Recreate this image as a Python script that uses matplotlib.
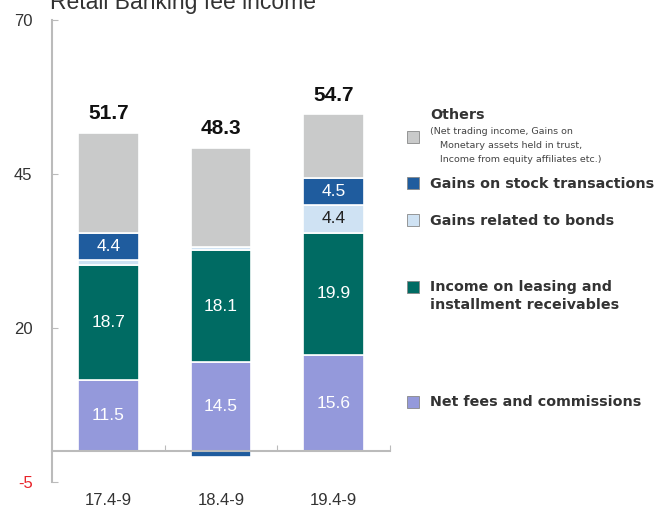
import numpy as np
import matplotlib.pyplot as plt
from matplotlib.patches import Rectangle

categories = ['17.4-9', '18.4-9', '19.4-9']
net_fees = [11.5, 14.5, 15.6]
leasing = [18.7, 18.1, 19.9]
bonds = [0.8, 0.5, 4.4]
stock = [4.4, -1.0, 4.5]
others = [16.3, 16.2, 10.3]
totals = [51.7, 48.3, 54.7]

series = [net_fees, leasing, bonds, stock, others]
colors = ['#9499DB', '#006B63', '#CFE2F3', '#1F5C9E', '#C9CACA']
# which segments get a label, and in what colour
label_show = [[True, True, True], [True, True, True], [False, False, True],
              [True, False, True], [False, False, False]]
label_col = ['white', 'white', '#222222', 'white', 'white']

plt.rcParams['font.family'] = ['Liberation Sans', 'DejaVu Sans']
plt.rcParams['axes.unicode_minus'] = False

fig = plt.figure(figsize=(6.55, 5.14), dpi=100)
ax = fig.add_axes([52 / 655, 1 - 482 / 514, 338 / 655, 462 / 514])

x = np.arange(len(categories))
pos = np.zeros(len(categories))
neg = np.zeros(len(categories))
for k, vals in enumerate(series):
    vals = np.array(vals)
    bottom = np.where(vals >= 0, pos, neg)
    ax.bar(x, vals, 0.54, bottom=bottom, color=colors[k], edgecolor='white', linewidth=1.2)
    for i in range(len(x)):
        if label_show[k][i]:
            ax.text(x[i], bottom[i] + vals[i] / 2, f'{vals[i]:.1f}', ha='center', va='center',
                    color=label_col[k], fontsize=12.5)
    pos = np.where(vals >= 0, pos + vals, pos)
    neg = np.where(vals < 0, neg + vals, neg)

for i in range(len(x)):
    ax.annotate(f'{totals[i]:.1f}', (x[i], pos[i]), xytext=(0, 7), textcoords='offset points',
                ha='center', va='bottom', fontsize=15, fontweight='bold', color='#111111')

ax.set_xlim(-0.5, 2.5)
ax.set_ylim(-5, 70)
ax.set_yticks([-5, 20, 45, 70])
ax.tick_params(axis='y', direction='in', length=4, color='#BBBBBB', pad=14, labelsize=12,
               labelcolor='#333333')
ax.get_yticklabels()[0].set_color('#E8242A')
ax.set_xticks([0.5, 1.5, 2.5])
ax.set_xticklabels([])
ax.tick_params(axis='x', direction='in', length=4, color='#BBBBBB')
for s in ['top', 'right']:
    ax.spines[s].set_visible(False)
ax.spines['left'].set_color('#BBBBBB')
ax.spines['left'].set_linewidth(1.5)
ax.spines['bottom'].set_position(('data', 0))
ax.spines['bottom'].set_color('#BBBBBB')
ax.spines['bottom'].set_linewidth(1.5)

for i, c in enumerate(categories):
    ax.text(x[i], -8, c, ha='center', va='center', fontsize=12, color='#333333', clip_on=False)

fig.text(50 / 655, 1 - 9 / 514, 'Retail Banking fee income', fontsize=16.5, color='#333333',
         ha='left', va='baseline')

# legend
leg_items = [
    (137, colors[4]),
    (183, colors[3]),
    (220, colors[2]),
    (287, colors[1]),
    (402, colors[0]),
]
for yy, col in leg_items:
    fig.patches.append(Rectangle((407 / 655, 1 - (yy + 6) / 514), 12 / 655, 12 / 514,
                                 transform=fig.transFigure, facecolor=col, edgecolor='#888888',
                                 linewidth=0.6))

bold = dict(fontsize=10.3, fontweight='bold', family='DejaVu Sans', color='#333333', va='center')
small = dict(fontsize=6.8, family='DejaVu Sans', color='#444444', va='center')
fig.text(430 / 655, 1 - 115 / 514, 'Others', **bold)
fig.text(430 / 655, 1 - 132 / 514, '(Net trading income, Gains on', **small)
fig.text(440 / 655, 1 - 146 / 514, 'Monetary assets held in trust,', **small)
fig.text(440 / 655, 1 - 160 / 514, 'Income from equity affiliates etc.)', **small)
fig.text(430 / 655, 1 - 184 / 514, 'Gains on stock transactions', **bold)
fig.text(430 / 655, 1 - 221 / 514, 'Gains related to bonds', **bold)
fig.text(430 / 655, 1 - 287 / 514, 'Income on leasing and', **bold)
fig.text(430 / 655, 1 - 305 / 514, 'installment receivables', **bold)
fig.text(430 / 655, 1 - 402 / 514, 'Net fees and commissions', **bold)

fig.savefig('out.png', dpi=100)
